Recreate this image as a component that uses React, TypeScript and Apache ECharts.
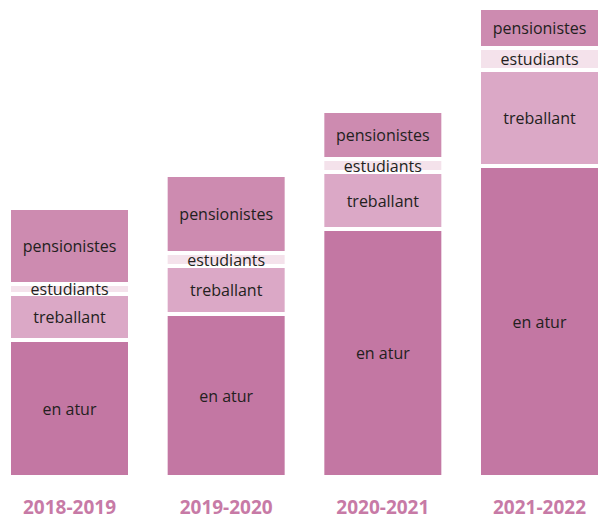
import React, { useEffect, useRef } from "react";
import * as echarts from "echarts";

const categories = ["2018-2019", "2019-2020", "2020-2021", "2021-2022"];
const enAtur = [137, 163, 248, 311];
const treballant = [46, 48, 57, 96];
const estudiants = [10, 13, 13, 22];
const pensionistes = [76, 78, 48, 40];

const seriesDefs = [
  { name: "en atur", data: enAtur, color: "#c377a3" },
  { name: "treballant", data: treballant, color: "#dba8c6" },
  { name: "estudiants", data: estudiants, color: "#f4e2eb" },
  { name: "pensionistes", data: pensionistes, color: "#cd8bb0" },
];

export default function App() {
  const ref = useRef<HTMLDivElement>(null);
  useEffect(() => {
    document.body.style.margin = "0";
    const chart = echarts.init(ref.current!, null, { renderer: "svg" });
    chart.setOption({
      animation: false,
      grid: { left: 69.5, right: 68.5, top: 7, bottom: 43, containLabel: false, outerBoundsMode: "none" },
      xAxis: {
        type: "category",
        data: categories,
        boundaryGap: false,
        axisLine: { show: false },
        axisTick: { show: false },
        axisLabel: {
          margin: 21,
          color: "#c77aa6",
          fontWeight: "bold",
          fontSize: 19,
          lineHeight: 18,
          fontFamily: "Open Sans",
        },
      },
      yAxis: { type: "value", min: 0, max: 470, show: false, splitLine: { show: false } },
      series: seriesDefs.map((s) => ({
        type: "bar",
        name: s.name,
        stack: "total",
        data: s.data,
        barWidth: 121,
        clip: false,
        itemStyle: { color: s.color, borderColor: "#ffffff", borderWidth: 2 },
        label: {
          show: true,
          position: "inside",
          formatter: s.name,
          color: "#231f20",
          fontSize: 16,
          fontFamily: "Open Sans",
        },
      })),
    });
    return () => chart.dispose();
  }, []);
  return <div ref={ref} style={{ width: 608, height: 520 }} />;
}
